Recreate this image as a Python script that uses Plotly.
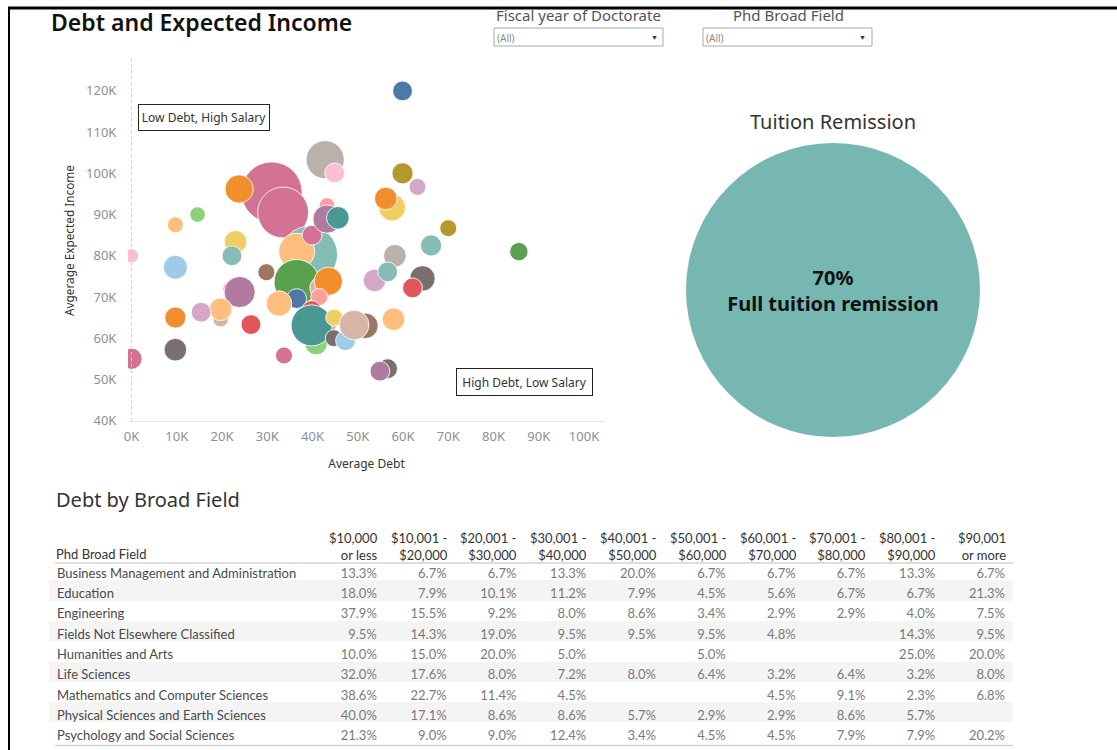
import plotly.graph_objects as go

# ---------------- data ----------------
# bubble chart: average debt ($), average expected income ($), respondents (bubble size)
avg_debt = [33700, 31000, 33500, 39300, 36500, 39900, 42800, 44900, 43200, 43200,
            45600, 57600, 56200, 36500, 36500, 41900, 43500, 41500, 43400, 39800,
            40800, 39800, 44800, 44700, 47300, 51700, 49200, 21900, 23900, 19700,
            19700, 23800, 64300, 32600, 9700, 23000, 57900, 53700, 9700, 58200,
            59900, 66200, 9700, 0, 59900, 22200, 56600, 62100, 15400, 26400,
            56600, 54900, 63200, 70000, 85600, 29800, 33700, 9700, 14600, 0]
avg_income = [86500, 95400, 90500, 80300, 81100, 85000, 103300, 100100, 92200, 88900,
              89200, 91700, 93900, 73600, 69600, 72200, 73800, 70000, 63300, 66700,
              58700, 63100, 65000, 60000, 59400, 63000, 63200, 72000, 71200, 64600,
              67000, 96200, 74500, 68400, 77200, 83400, 64600, 74000, 57200, 80000,
              100000, 82500, 65000, 55000, 120000, 80000, 76100, 72200, 66300, 63300,
              52600, 52000, 96700, 86700, 81000, 76000, 55800, 87500, 90000, 80000]
respondents = [25, 462, 324, 400, 161, 49, 182, 49, 30, 100,
               64, 90, 64, 256, 49, 64, 100, 36, 36, 49,
               64, 210, 36, 36, 49, 81, 110, 30, 121, 30,
               64, 100, 81, 81, 72, 64, 64, 64, 64, 64,
               56, 56, 56, 56, 49, 49, 49, 49, 49, 49,
               49, 49, 36, 36, 42, 36, 36, 32, 30, 25]

share_label = "Full tuition remission"
share_pct = 70

field_header = "Phd Broad Field"
debt_bins = ["$10,000<br>or less", "$10,001 -<br>$20,000", "$20,001 -<br>$30,000",
             "$30,001 -<br>$40,000", "$40,001 -<br>$50,000", "$50,001 -<br>$60,000",
             "$60,001 -<br>$70,000", "$70,001 -<br>$80,000", "$80,001 -<br>$90,000",
             "$90,001<br>or more"]
fields = ["Business Management and Administration", "Education", "Engineering",
          "Fields Not Elsewhere Classified", "Humanities and Arts", "Life Sciences",
          "Mathematics and Computer Sciences", "Physical Sciences and Earth Sciences",
          "Psychology and Social Sciences"]
pct_business = [13.3, 6.7, 6.7, 13.3, 20.0, 6.7, 6.7, 6.7, 13.3, 6.7]
pct_education = [18.0, 7.9, 10.1, 11.2, 7.9, 4.5, 5.6, 6.7, 6.7, 21.3]
pct_engineering = [37.9, 15.5, 9.2, 8.0, 8.6, 3.4, 2.9, 2.9, 4.0, 7.5]
pct_fields_nec = [9.5, 14.3, 19.0, 9.5, 9.5, 9.5, 4.8, None, 14.3, 9.5]
pct_humanities = [10.0, 15.0, 20.0, 5.0, None, 5.0, None, None, 25.0, 20.0]
pct_life = [32.0, 17.6, 8.0, 7.2, 8.0, 6.4, 3.2, 6.4, 3.2, 8.0]
pct_math = [38.6, 22.7, 11.4, 4.5, None, None, 4.5, 9.1, 2.3, 6.8]
pct_physical = [40.0, 17.1, 8.6, 8.6, 5.7, 2.9, 2.9, 8.6, 5.7, None]
pct_psychology = [21.3, 9.0, 9.0, 12.4, 3.4, 4.5, 4.5, 7.9, 7.9, 20.2]

x_ticks = [0, 10000, 20000, 30000, 40000, 50000, 60000, 70000, 80000, 90000, 100000]
x_ticktext = ["0K", "10K", "20K", "30K", "40K", "50K", "60K", "70K", "80K", "90K", "100K"]
y_ticks = [40000, 50000, 60000, 70000, 80000, 90000, 100000, 110000, 120000]
y_ticktext = ["40K", "50K", "60K", "70K", "80K", "90K", "100K", "110K", "120K"]

# ---------------- styles ----------------
point_colors = ["#8CD17D", "#D37295", "#D37295", "#86BCB6", "#FFBE7D", "#D37295", "#BAB0AC", "#FABFD2", "#FF9D9A", "#B07AA1",
                "#499894", "#F1CE63", "#F28E2B", "#59A14F", "#4E79A7", "#D7B5A6", "#F28E2B", "#FF9D9A", "#BAB0AC", "#E15759",
                "#8CD17D", "#499894", "#F1CE63", "#79706E", "#A0CBE8", "#9D7660", "#D7B5A6", "#FF9D9A", "#B07AA1", "#D7B5A6",
                "#FFBE7D", "#F28E2B", "#79706E", "#FFBE7D", "#A0CBE8", "#F1CE63", "#FFBE7D", "#D4A6C8", "#79706E", "#BAB0AC",
                "#B6992D", "#86BCB6", "#F28E2B", "#D37295", "#4E79A7", "#86BCB6", "#86BCB6", "#E15759", "#D4A6C8", "#E15759",
                "#79706E", "#B07AA1", "#D4A6C8", "#B6992D", "#59A14F", "#9D7660", "#D37295", "#FFBE7D", "#8CD17D", "#FABFD2"]

W, H = 1117, 750
X_SHIFT = 3
FONT = "Noto Sans"
TFONT = "Lato"
NBSP = "\u00a0"

# table geometry (pixels)
TAB_LEFT = 46
FIRST_COL_W = 266
NUM_COL_W = 69.8
CELL_PAD = 5
ROW_H = 20.3
TAB_TOP = 560
HEADER_RULE = 563


def px(x):
    return min(1.0, max(0.0, (x + X_SHIFT) / W))


def py(y):
    return max(0.0, 1 - y / H)


fig = go.Figure()

fig.add_trace(go.Scatter(
    x=avg_debt, y=avg_income, mode="markers",
    marker=dict(size=respondents, sizemode="area", sizeref=0.25,
                color=point_colors, opacity=1,
                line=dict(color="rgba(255,255,255,0.85)", width=1)),
    showlegend=False, hoverinfo="x+y",
))

fig.add_trace(go.Pie(
    values=[share_pct], labels=[share_label],
    domain=dict(x=[px(682), px(978)], y=[py(437), py(143)]),
    marker=dict(colors=["#76B7B2"], line=dict(width=0)),
    texttemplate="<b>" + str(share_pct) + "%</b><br><b>%{label}</b>",
    textposition="inside", insidetextorientation="horizontal",
    textfont=dict(family=FONT, size=20, color="#111111"),
    sort=False, showlegend=False, hoverinfo="label",
))

# table: the first data row is rendered through the table's header slot so that every
# row has the same height; the two-line column titles are drawn as annotations.
rows = [pct_business, pct_education, pct_engineering, pct_fields_nec, pct_humanities,
        pct_life, pct_math, pct_physical, pct_psychology]
columns = ([[f.replace(" ", NBSP) for f in fields]] +
           [["" if r[i] is None else f"{r[i]:.1f}%" for r in rows] for i in range(len(debt_bins))])
first_row = [col[0] for col in columns]
other_rows = [col[1:] for col in columns]
row_fill = ["#ffffff" if i % 2 == 0 else "#f4f4f4" for i in range(len(fields))]
tab_right = TAB_LEFT + FIRST_COL_W + NUM_COL_W * len(debt_bins)
col_align = ["left"] + ["right"] * len(debt_bins)
col_font = dict(family=TFONT, size=13, color=["#4a4a4a"] + ["#7a7a7a"] * len(debt_bins))

fig.add_trace(go.Table(
    domain=dict(x=[px(TAB_LEFT), px(tab_right)], y=[py(TAB_TOP + ROW_H * len(fields) + 0.5), py(TAB_TOP)]),
    columnwidth=[FIRST_COL_W] + [NUM_COL_W] * len(debt_bins),
    header=dict(values=first_row, align=col_align, font=col_font,
                fill=dict(color=row_fill[0]),
                line=dict(color="rgba(0,0,0,0)", width=1),
                height=ROW_H),
    cells=dict(values=other_rows, align=col_align, font=col_font,
               fill=dict(color=[row_fill[1:]] * (len(debt_bins) + 1)),
               line=dict(color="rgba(0,0,0,0)", width=1),
               height=ROW_H),
))

fig.update_layout(
    width=W, height=H,
    margin=dict(l=0, r=0, t=0, b=0, autoexpand=False),
    paper_bgcolor="white", plot_bgcolor="white",
    font=dict(family=FONT, color="#333333"),
    xaxis=dict(domain=[px(125), px(602)], range=[-770, 104640],
               tickvals=x_ticks, ticktext=x_ticktext,
               tickfont=dict(size=13, color="#8f8f8f"),
               showgrid=False, zeroline=False,
               showline=True, linecolor="#e6e6e6", linewidth=1,
               ticks="outside", ticklen=3, tickcolor="rgba(0,0,0,0)",
               title=dict(text="Average Debt", font=dict(size=12, color="#333333"), standoff=16),
               automargin=False, fixedrange=True),
    yaxis=dict(domain=[py(421), py(60)], range=[39900, 127500],
               tickvals=y_ticks, ticktext=y_ticktext,
               tickfont=dict(size=13, color="#8f8f8f"),
               showgrid=False, zeroline=False, showline=False,
               ticks="outside", ticklen=8, tickcolor="rgba(0,0,0,0)",
               title=dict(text="Avgerage Expected Income", font=dict(size=11.8, color="#333333"), standoff=8),
               automargin=False, fixedrange=True),
)

shapes = [
    # dotted zero line
    dict(type="line", xref="x", yref="paper", x0=0, x1=0, y0=py(421), y1=py(55),
         line=dict(color="#cfcfcf", width=1, dash="dot")),
    # dashboard borders
    dict(type="line", xref="paper", yref="paper", x0=px(5), x1=1, y0=py(8), y1=py(8),
         line=dict(color="black", width=3)),
    dict(type="line", xref="paper", yref="paper", x0=px(6), x1=px(6), y0=py(7), y1=0,
         line=dict(color="black", width=2)),
    # dropdown boxes
    dict(type="rect", xref="paper", yref="paper", x0=px(491), x1=px(660), y0=py(46), y1=py(28),
         line=dict(color="#a9a9a9", width=1), fillcolor="white"),
    dict(type="rect", xref="paper", yref="paper", x0=px(700), x1=px(869), y0=py(46), y1=py(28),
         line=dict(color="#a9a9a9", width=1), fillcolor="white"),
    # table rules
    dict(type="line", xref="paper", yref="paper", x0=px(52), x1=px(1010), y0=py(HEADER_RULE), y1=py(HEADER_RULE),
         line=dict(color="#d2d2d2", width=1.5), layer="above"),
    dict(type="line", xref="paper", yref="paper", x0=px(52), x1=px(1010), y0=py(745.5), y1=py(745.5),
         line=dict(color="#d2d2d2", width=1.5), layer="above"),
]
fig.update_layout(shapes=shapes)

ann = [
    dict(text="Debt and Expected Income", x=px(46), y=py(22), xanchor="left", yanchor="middle",
         font=dict(size=23, color="#111111", weight=600)),
    dict(text="Fiscal year of Doctorate", x=px(575), y=py(15), xanchor="center", yanchor="middle",
         font=dict(size=15, color="#555555")),
    dict(text="Phd Broad Field", x=px(785), y=py(15), xanchor="center", yanchor="middle",
         font=dict(size=15, color="#555555")),
    dict(text="(All)", x=px(492), y=py(37.5), xanchor="left", yanchor="middle",
         font=dict(size=10, color="#8a8a8a")),
    dict(text="(All)", x=px(701), y=py(37.5), xanchor="left", yanchor="middle",
         font=dict(size=10, color="#8a8a8a")),
    dict(text="▼", x=px(651), y=py(37), xanchor="center", yanchor="middle",
         font=dict(size=7, color="#333333")),
    dict(text="▼", x=px(860), y=py(37), xanchor="center", yanchor="middle",
         font=dict(size=7, color="#333333")),
    dict(text="Low Debt, High Salary", x=px(201), y=py(117), xanchor="center", yanchor="middle",
         width=128, height=23, borderpad=1, bordercolor="#222222", borderwidth=1,
         bgcolor="white", font=dict(size=12, color="#333333")),
    dict(text="High Debt, Low Salary", x=px(521.5), y=py(381.5), xanchor="center", yanchor="middle",
         width=133, height=24, borderpad=1, bordercolor="#222222", borderwidth=1,
         bgcolor="white", font=dict(size=12, color="#333333")),
    dict(text="Tuition Remission", x=px(830), y=py(121), xanchor="center", yanchor="middle",
         font=dict(size=20, color="#333333")),
    dict(text="Debt by Broad Field", x=px(51), y=py(499), xanchor="left", yanchor="middle",
         font=dict(size=20, color="#333333")),
    # table column headers
    dict(text=field_header, x=px(TAB_LEFT + CELL_PAD + 1), y=py(554), xanchor="left", yanchor="middle",
         borderpad=0, font=dict(family=TFONT, size=13, color="#333333")),
]
for i, lab in enumerate(debt_bins):
    right = TAB_LEFT + FIRST_COL_W + NUM_COL_W * (i + 1) - CELL_PAD - 1
    ann.append(dict(text=lab, x=px(right), y=py(546), xanchor="right", yanchor="middle", align="right",
                    borderpad=0, font=dict(family=TFONT, size=13, color="#333333")))
for a in ann:
    a.setdefault("xref", "paper")
    a.setdefault("yref", "paper")
    a.setdefault("showarrow", False)
fig.update_layout(annotations=ann)

fig.write_html("out.html", config={"displayModeBar": False},
               post_script="document.body.style.margin='0';")
